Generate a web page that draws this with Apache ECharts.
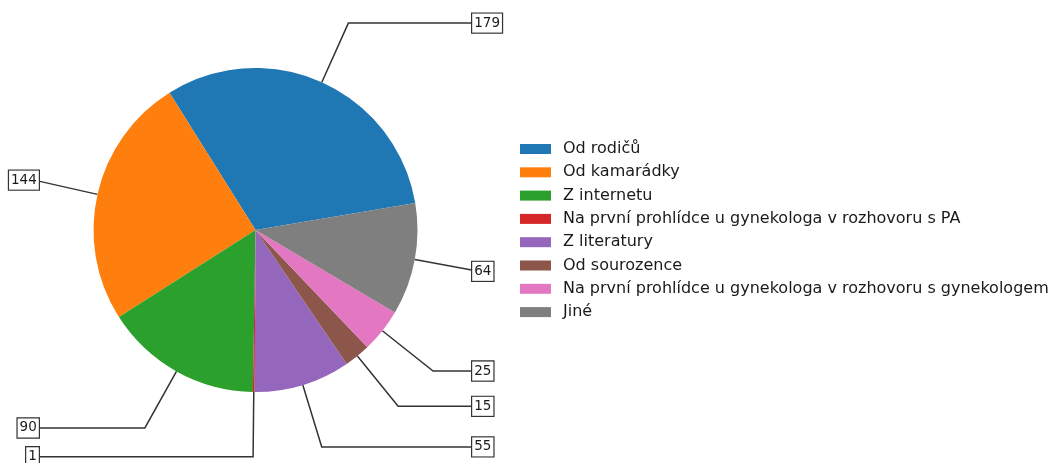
<!DOCTYPE html>
<html>
<head>
<meta charset="utf-8">
<script src="https://cdn.jsdelivr.net/npm/echarts@6/dist/echarts.min.js"></script>
<style>html,body{margin:0;padding:0;background:#fff;}#c{width:1052px;height:463px;}</style>
</head>
<body>
<div id="c"></div>
<script>
const categories = [
  "Od rodičů",
  "Od kamarádky",
  "Z internetu",
  "Na první prohlídce u gynekologa v rozhovoru s PA",
  "Z literatury",
  "Od sourozence",
  "Na první prohlídce u gynekologa v rozhovoru s gynekologem",
  "Jiné"
];
const values = [179, 144, 90, 1, 55, 15, 25, 64];
const colors = ["#1f77b4", "#ff7f0e", "#2ca02c", "#d62728", "#9467bd", "#8c564b", "#e377c2", "#7f7f7f"];

const CX = 255.5, CY = 230, R = 162, START = 9.6;
const total = values.reduce((a, b) => a + b, 0);
const mids = [];
(function () {
  let a = START;
  for (const v of values) {
    const span = v / total * 360;
    mids.push(a + span / 2);
    a += span;
  }
})();

const chart = echarts.init(document.getElementById('c'), null, {renderer: 'canvas'});
chart.setOption({
  animation: false,
  color: colors,
  legend: {
    orient: 'vertical',
    left: 515,
    top: 135,
    icon: 'rect',
    itemWidth: 31,
    itemHeight: 10,
    itemGap: 5.3,
    textStyle: {fontFamily: 'DejaVu Sans', fontSize: 16, color: '#1a1a1a', lineHeight: 18, padding: [0, 0, 0, 7]},
    data: categories
  },
  series: [{
    type: 'pie',
    center: [CX, CY],
    radius: [0, R],
    startAngle: START,
    clockwise: false,
    avoidLabelOverlap: false,
    itemStyle: {borderWidth: 0},
    emphasis: {disabled: true},
    label: {
      show: true,
      position: 'outside',
      formatter: p => String(p.value),
      fontFamily: 'DejaVu Sans',
      fontSize: 13.5,
      lineHeight: 14,
      color: '#1a1a1a',
      backgroundColor: '#fff',
      borderColor: '#333',
      borderWidth: 1.2,
      padding: [3, 2, 2, 2]
    },
    labelLine: {show: true, lineStyle: {color: '#333', width: 1.5}},
    labelLayout: function (params) {
      const i = params.dataIndex;
      const ang = mids[i] * Math.PI / 180;
      const c = Math.cos(ang), s = Math.sin(ang);
      const side = c >= 0 ? 1 : -1;
      const ty = CY - 1.4 * R * s;
      const bx = CX + side * (1.35 * R - 2);
      return {
        x: bx,
        y: ty,
        align: side > 0 ? 'left' : 'right',
        verticalAlign: 'middle',
        labelLinePoints: [
          [CX + R * c, CY - R * s],
          [CX + 1.4 * R * c, ty],
          [bx, ty]
        ]
      };
    },
    data: categories.map((n, i) => ({name: n, value: values[i]}))
  }]
});
</script>
</body>
</html>
